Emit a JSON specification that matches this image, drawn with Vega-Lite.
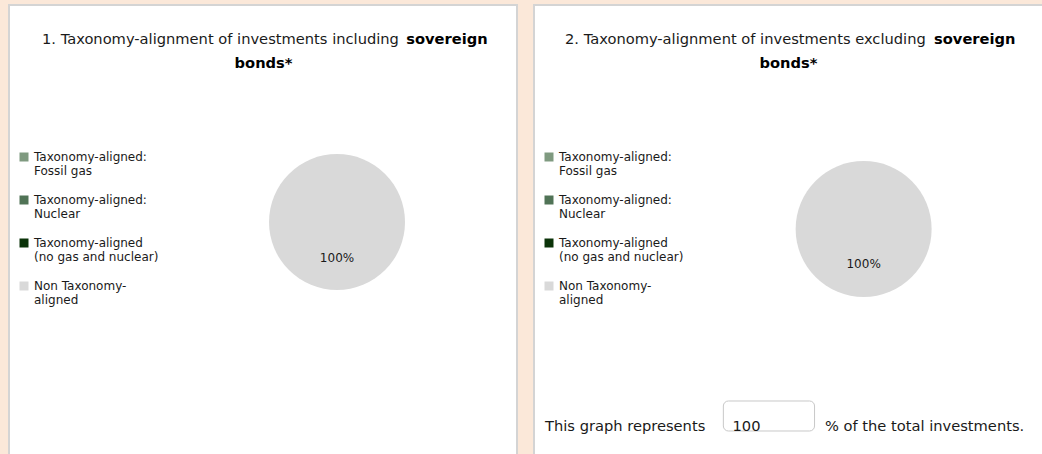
{
  "$schema": "https://vega.github.io/schema/vega-lite/v6.json",
  "background": "#fbe8d9",
  "padding": {"left": 8, "top": 4, "right": 2, "bottom": 0},
  "spacing": 15,
  "datasets": {
    "incl": [
      {"category": "Taxonomy-aligned: Fossil gas", "share": 0},
      {"category": "Taxonomy-aligned: Nuclear", "share": 0},
      {"category": "Taxonomy-aligned (no gas and nuclear)", "share": 0},
      {"category": "Non Taxonomy-aligned", "share": 1}
    ],
    "excl": [
      {"category": "Taxonomy-aligned: Fossil gas", "share": 0},
      {"category": "Taxonomy-aligned: Nuclear", "share": 0},
      {"category": "Taxonomy-aligned (no gas and nuclear)", "share": 0},
      {"category": "Non Taxonomy-aligned", "share": 1}
    ]
  },
  "hconcat": [
    {
      "width": 508,
      "height": 456,
      "data": {"name": "incl"},
      "layer": [
        {
          "mark": {"type": "arc", "radius": 68},
          "encoding": {
            "theta": {"field": "share", "type": "quantitative", "stack": true},
            "color": {
              "field": "category", "type": "nominal",
              "scale": {
                "domain": ["Taxonomy-aligned: Fossil gas", "Taxonomy-aligned: Nuclear", "Taxonomy-aligned (no gas and nuclear)", "Non Taxonomy-aligned"],
                "range": ["#7f9a80", "#507356", "#0b3309", "#d9d9d9"]
              },
              "legend": {
                "orient": "none", "legendX": 9, "legendY": 146, "title": null,
                "symbolType": "square", "symbolSize": 81, "symbolStrokeWidth": 0,
                "labelFontSize": 12, "labelColor": "#1a1a1a", "labelOffset": 4, "rowPadding": 17, "padding": 0,
                "labelLimit": 300,
                "labelExpr": "datum.label === 'Taxonomy-aligned: Fossil gas' ? ['Taxonomy-aligned:', 'Fossil gas'] : datum.label === 'Taxonomy-aligned: Nuclear' ? ['Taxonomy-aligned:', 'Nuclear'] : datum.label === 'Taxonomy-aligned (no gas and nuclear)' ? ['Taxonomy-aligned', '(no gas and nuclear)'] : ['Non Taxonomy-', 'aligned']"
              }
            },
            "x": {"datum": 64.57, "type": "quantitative", "scale": {"domain": [0, 100]}, "axis": null},
            "y": {"datum": 47.59, "type": "quantitative", "scale": {"domain": [0, 100], "reverse": true}, "axis": null}
          }
        },
        {
          "transform": [{"filter": "datum.share > 0"}],
          "mark": {"type": "text", "radius": 36, "fontSize": 12, "color": "#1a1a1a"},
          "encoding": {
            "theta": {"field": "share", "type": "quantitative", "stack": true},
            "text": {"field": "share", "type": "quantitative", "format": ".0%"},
            "x": {"datum": 64.57, "type": "quantitative"},
            "y": {"datum": 47.59, "type": "quantitative"}
          }
        },
        {
          "data": {"values": [{}]},
          "mark": {"type": "text", "align": "left", "baseline": "middle", "fontSize": 14.67, "color": "#1a1a1a", "text": "1. Taxonomy-alignment of investments including"},
          "encoding": {"x": {"datum": 6.5, "type": "quantitative"}, "y": {"datum": 7.6, "type": "quantitative"}}
        },
        {
          "data": {"values": [{}]},
          "mark": {"type": "text", "align": "left", "baseline": "middle", "fontSize": 14.67, "fontWeight": "bold", "color": "#000000", "text": "sovereign"},
          "encoding": {"x": {"datum": 78.2, "type": "quantitative"}, "y": {"datum": 7.6, "type": "quantitative"}}
        },
        {
          "data": {"values": [{}]},
          "mark": {"type": "text", "align": "center", "baseline": "middle", "fontSize": 14.67, "fontWeight": "bold", "color": "#000000", "text": "bonds*"},
          "encoding": {"x": {"datum": 50.1, "type": "quantitative"}, "y": {"datum": 12.85, "type": "quantitative"}}
        }
      ]
    },
    {
      "width": 509,
      "height": 456,
      "data": {"name": "excl"},
      "layer": [
        {
          "mark": {"type": "arc", "radius": 68},
          "encoding": {
            "theta": {"field": "share", "type": "quantitative", "stack": true},
            "color": {
              "field": "category", "type": "nominal",
              "scale": {
                "domain": ["Taxonomy-aligned: Fossil gas", "Taxonomy-aligned: Nuclear", "Taxonomy-aligned (no gas and nuclear)", "Non Taxonomy-aligned"],
                "range": ["#7f9a80", "#507356", "#0b3309", "#d9d9d9"]
              },
              "legend": {
                "orient": "none", "legendX": 9, "legendY": 146, "title": null,
                "symbolType": "square", "symbolSize": 81, "symbolStrokeWidth": 0,
                "labelFontSize": 12, "labelColor": "#1a1a1a", "labelOffset": 4, "rowPadding": 17, "padding": 0,
                "labelLimit": 300,
                "labelExpr": "datum.label === 'Taxonomy-aligned: Fossil gas' ? ['Taxonomy-aligned:', 'Fossil gas'] : datum.label === 'Taxonomy-aligned: Nuclear' ? ['Taxonomy-aligned:', 'Nuclear'] : datum.label === 'Taxonomy-aligned (no gas and nuclear)' ? ['Taxonomy-aligned', '(no gas and nuclear)'] : ['Non Taxonomy-', 'aligned']"
              }
            },
            "x": {"datum": 64.76, "type": "quantitative", "scale": {"domain": [0, 100]}, "axis": null},
            "y": {"datum": 49.12, "type": "quantitative", "scale": {"domain": [0, 100], "reverse": true}, "axis": null}
          }
        },
        {
          "transform": [{"filter": "datum.share > 0"}],
          "mark": {"type": "text", "radius": 36, "fontSize": 12, "color": "#1a1a1a"},
          "encoding": {
            "theta": {"field": "share", "type": "quantitative", "stack": true},
            "text": {"field": "share", "type": "quantitative", "format": ".0%"},
            "x": {"datum": 64.76, "type": "quantitative"},
            "y": {"datum": 48.9, "type": "quantitative"}
          }
        },
        {
          "data": {"values": [{}]},
          "mark": {"type": "text", "align": "left", "baseline": "middle", "fontSize": 14.67, "color": "#1a1a1a", "text": "2. Taxonomy-alignment of investments excluding"},
          "encoding": {"x": {"datum": 6.1, "type": "quantitative"}, "y": {"datum": 7.6, "type": "quantitative"}}
        },
        {
          "data": {"values": [{}]},
          "mark": {"type": "text", "align": "left", "baseline": "middle", "fontSize": 14.67, "fontWeight": "bold", "color": "#000000", "text": "sovereign"},
          "encoding": {"x": {"datum": 78.6, "type": "quantitative"}, "y": {"datum": 7.6, "type": "quantitative"}}
        },
        {
          "data": {"values": [{}]},
          "mark": {"type": "text", "align": "center", "baseline": "middle", "fontSize": 14.67, "fontWeight": "bold", "color": "#000000", "text": "bonds*"},
          "encoding": {"x": {"datum": 50, "type": "quantitative"}, "y": {"datum": 12.85, "type": "quantitative"}}
        },
        {
          "data": {"values": [{}]},
          "mark": {"type": "rect", "fill": "white", "stroke": "#c8c8c8", "strokeWidth": 1, "cornerRadius": 5},
          "encoding": {
            "x": {"datum": 37.2, "type": "quantitative"}, "x2": {"datum": 55.12},
            "y": {"datum": 86.84, "type": "quantitative"}, "y2": {"datum": 93.42}
          }
        },
        {
          "data": {"values": [{}]},
          "mark": {"type": "text", "align": "left", "baseline": "middle", "fontSize": 14.67, "color": "#1a1a1a", "text": "This graph represents"},
          "encoding": {"x": {"datum": 2.17, "type": "quantitative"}, "y": {"datum": 92.54, "type": "quantitative"}}
        },
        {
          "data": {"values": [{}]},
          "mark": {"type": "text", "align": "left", "baseline": "middle", "fontSize": 14.67, "color": "#1a1a1a", "text": "100"},
          "encoding": {"x": {"datum": 39.0, "type": "quantitative"}, "y": {"datum": 92.54, "type": "quantitative"}}
        },
        {
          "data": {"values": [{}]},
          "mark": {"type": "text", "align": "left", "baseline": "middle", "fontSize": 14.67, "color": "#1a1a1a", "text": "% of the total investments."},
          "encoding": {"x": {"datum": 57.15, "type": "quantitative"}, "y": {"datum": 92.54, "type": "quantitative"}}
        }
      ]
    }
  ],
  "resolve": {"scale": {"color": "independent"}, "legend": {"color": "independent"}},
  "config": {
    "font": "DejaVu Sans",
    "view": {"fill": "white", "stroke": "#d4d4d4", "strokeWidth": 2},
    "style": {"guide-label": {"lineHeight": 14}}
  }
}
